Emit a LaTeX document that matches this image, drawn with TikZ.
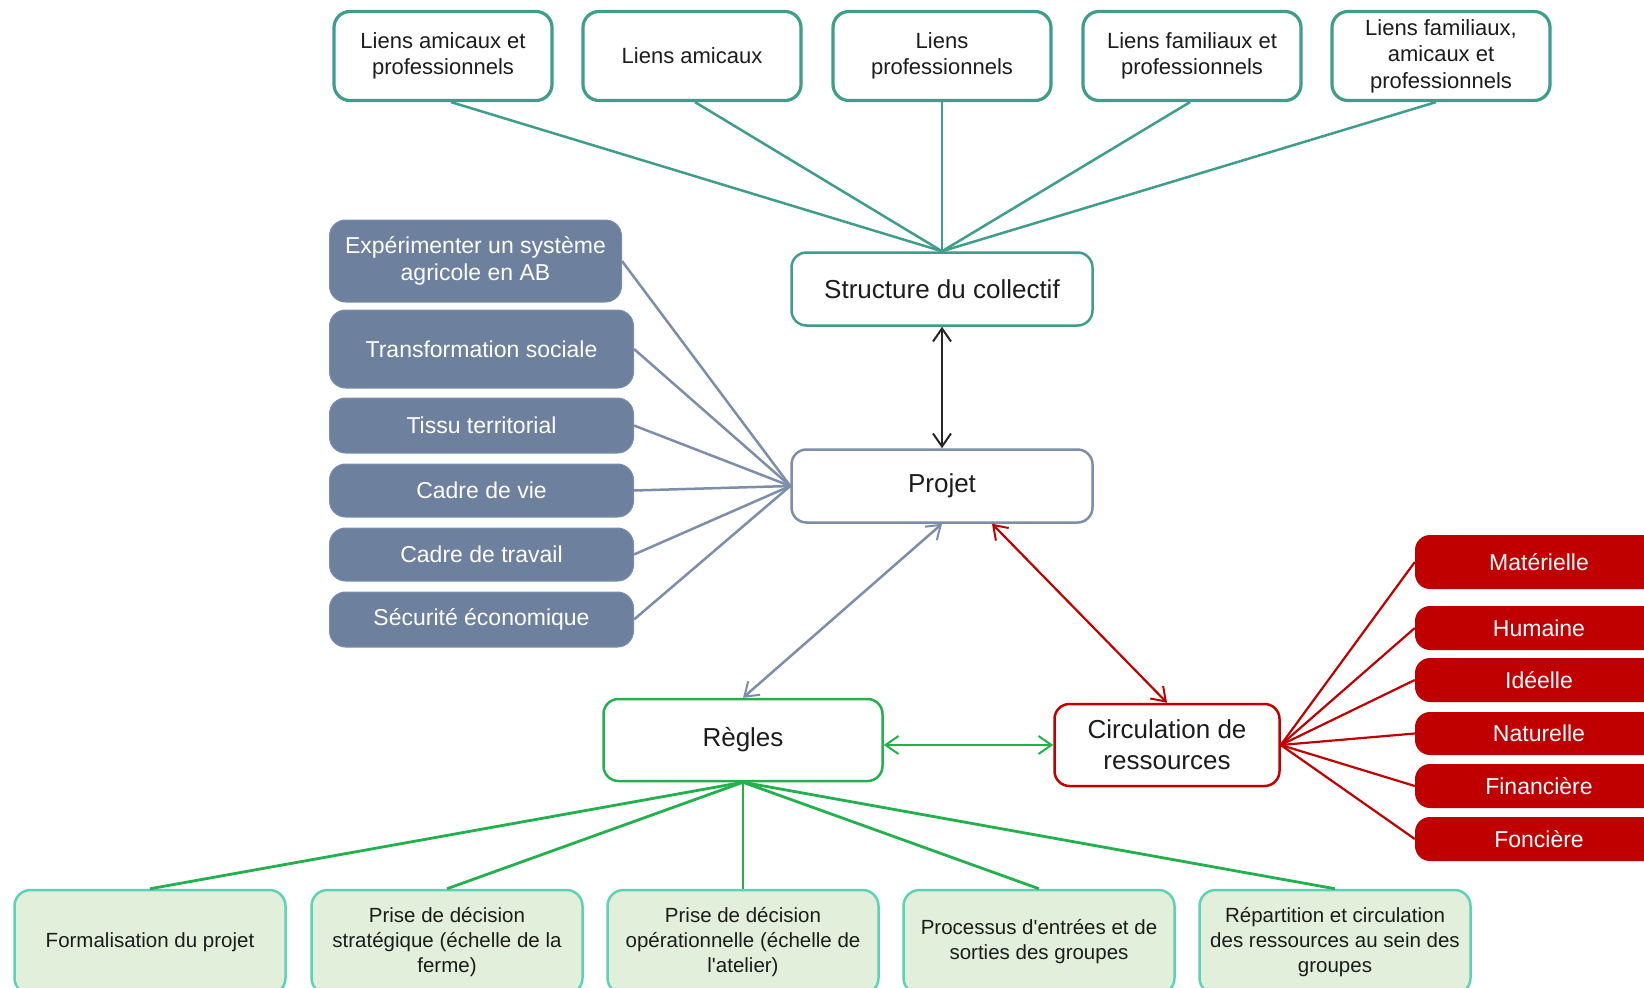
\documentclass[tikz,border=0pt]{standalone}
\usepackage{fontspec}
\setmainfont{Liberation Sans}[Ligatures=TeXOff]
\usetikzlibrary{arrows.meta}
\definecolor{cTeal}{HTML}{3E9E8B}
\definecolor{cGB}{HTML}{6D819F}
\definecolor{cGBl}{HTML}{7C8EAA}
\definecolor{cRed}{HTML}{C00000}
\definecolor{cGreen}{HTML}{22B14C}
\definecolor{cBotFill}{HTML}{E2EFDA}
\definecolor{cBotDraw}{HTML}{5CD3B6}
\definecolor{cText}{HTML}{1C1C1C}
\tikzset{
  topbox/.style={draw=cTeal, line width=3.2pt, rounded corners=16pt, fill=white,
    minimum width=218pt, minimum height=89pt, align=center, text=cText,
    font=\fontsize{22}{26.5}\selectfont, inner sep=2pt},
  mainbox/.style={fill=white, rounded corners=15pt, line width=2.5pt,
    minimum width=301pt, minimum height=73pt, align=center, text=cText,
    font=\fontsize{26}{31}\selectfont, inner sep=2pt},
  leftbox/.style={fill=cGB, draw=cGBl, line width=1pt, rounded corners=16pt,
    text=white, align=center, anchor=west, inner sep=2pt,
    font=\fontsize{23}{26.5}\selectfont},
  redbox/.style={fill=cRed, rounded corners=15pt, text=white, inner sep=2pt,
    minimum width=248pt, font=\fontsize{23}{27}\selectfont},
  botbox/.style={fill=cBotFill, draw=cBotDraw, line width=2.5pt, rounded corners=16pt,
    minimum width=271pt, minimum height=104pt, align=center, text=cText,
    font=\fontsize{20.5}{25}\selectfont, inner sep=2pt},
  tealline/.style={draw=cTeal, line width=2.5pt},
  gbline/.style={draw=cGBl, line width=2.5pt},
  redline/.style={draw=cRed, line width=2.2pt},
  greenline/.style={draw=cGreen, line width=2.8pt},
  barbs/.style={{Straight Barb[length=13pt,width=18pt,line width=2pt]}-{Straight Barb[length=13pt,width=18pt,line width=2pt]}}
}
\begin{document}
\begin{tikzpicture}[x=1pt,y=-1pt]
\clip (0,0) rectangle (1644,988);
\fill[white] (0,0) rectangle (1644,988);

% top boxes
\node[topbox] (t1) at (443,56) {Liens amicaux et\\professionnels};
\node[topbox] (t2) at (692,56) {Liens amicaux};
\node[topbox] (t3) at (942,56) {Liens\\professionnels};
\node[topbox] (t4) at (1192,56) {Liens familiaux et\\professionnels};
\node[topbox] (t5) at (1441,56) {Liens familiaux,\\amicaux et\\professionnels};

% main nodes
\node[mainbox, draw=cTeal] (S) at (942,289) {Structure du collectif};
\node[mainbox, draw=cGBl] (P) at (942,486) {Projet};
\node[mainbox, draw=cGreen, minimum width=279pt, minimum height=82pt] (R) at (743,740) {Règles};
\node[mainbox, draw=cRed, minimum width=225pt, minimum height=82pt] (C) at (1167,745) {Circulation de\\ressources};

% left boxes
\node[leftbox, minimum width=292pt, minimum height=82pt] (l1) at (329,261) {Expérimenter un système\\agricole en AB};
\node[leftbox, minimum width=304pt, minimum height=78pt] (l2) at (329,349) {Transformation sociale};
\node[leftbox, minimum width=304pt, minimum height=55pt] (l3) at (329,425.5) {Tissu territorial};
\node[leftbox, minimum width=304pt, minimum height=53pt] (l4) at (329,490.5) {Cadre de vie};
\node[leftbox, minimum width=304pt, minimum height=53pt] (l5) at (329,554.5) {Cadre de travail};
\node[leftbox, minimum width=304pt, minimum height=55pt] (l6) at (329,619.5) {Sécurité économique};

% red boxes
\node[redbox, minimum height=54pt] (r1) at (1539,562) {Matérielle};
\node[redbox, minimum height=44pt] (r2) at (1539,628) {Humaine};
\node[redbox, minimum height=44pt] (r3) at (1539,680) {Idéelle};
\node[redbox, minimum height=43pt] (r4) at (1539,733.5) {Naturelle};
\node[redbox, minimum height=44pt] (r5) at (1539,786) {Financière};
\node[redbox, minimum height=44pt] (r6) at (1539,839) {Foncière};

% bottom boxes
\node[botbox] (b1) at (150,942) {Formalisation du projet};
\node[botbox] (b2) at (447,942) {Prise de décision\\stratégique (échelle de la\\ferme)};
\node[botbox] (b3) at (743,942) {Prise de décision\\opérationnelle (échelle de\\l'atelier)};
\node[botbox] (b4) at (1039,942) {Processus d'entrées et de\\sorties des groupes};
\node[botbox] (b5) at (1335,942) {Répartition et circulation\\des ressources au sein des\\groupes};

% connectors top
\draw[tealline] ([xshift=8pt]t1.south) -- (S.north);
\draw[tealline] ([xshift=3pt]t2.south) -- (S.north);
\draw[tealline] (t3.south) -- (S.north);
\draw[tealline] ([xshift=-2pt]t4.south) -- (S.north);
\draw[tealline] ([xshift=-5pt]t5.south) -- (S.north);
% left connectors
\foreach \l in {l1,l2,l3,l4,l5,l6} \draw[gbline] (\l.east) -- (P.west);
% red connectors
\foreach \r in {r1,r2,r3,r4,r5,r6} \draw[redline] (C.east) -- (\r.west);
% bottom connectors
\foreach \b in {b1,b2,b3,b4,b5} \draw[greenline] (R.south) -- (\b.north);

% arrows
\draw[barbs, draw=black!85, line width=1.5pt] (S.south) -- (P.north);
\draw[barbs, gbline] (P.south) -- (R.north);
\draw[barbs, redline] ([xshift=50pt]P.south) -- (C.north);
\draw[barbs, draw=cGreen, line width=2.5pt] (R.east |- C.west) -- (C.west);
\end{tikzpicture}
\end{document}
